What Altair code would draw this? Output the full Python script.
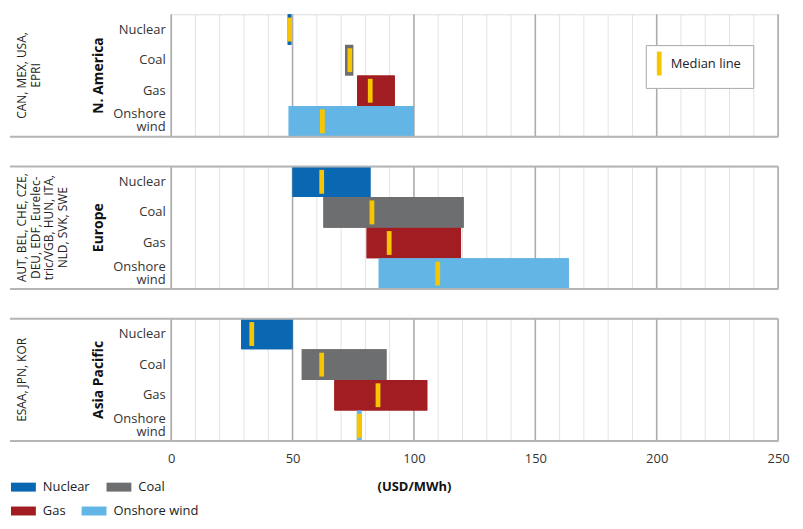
import altair as alt
import pandas as pd

# ---------------- data ----------------
regions = ["N. America", "Europe", "Asia Pacific"]
countries = [
    ["CAN, MEX, USA,", "EPRI"],
    ["AUT, BEL, CHE, CZE,", "DEU, EDF, Eurelec-", "tric/VGB, HUN, ITA,", "NLD, SVK, SWE"],
    ["ESAA, JPN, KOR"],
]
technologies = ["Nuclear", "Coal", "Gas", "Onshore wind"]
tech_colors = ["#0a67b2", "#6d6e70", "#a11d21", "#62b5e5"]
legend_row1 = ["Nuclear", "Coal"]
legend_row2 = ["Gas", "Onshore wind"]

low = [[48.0, 71.6, 76.6, 48.4], [50.0, 62.7, 80.5, 85.5], [28.8, 53.8, 67.2, 76.5]]
high = [[49.5, 75.0, 92.1, 100.0], [82.1, 120.5, 119.4, 163.8], [50.0, 88.7, 105.5, 78.4]]
median = [[48.8, 73.6, 82.0, 62.3], [62.0, 82.7, 89.8, 109.8], [33.2, 62.0, 85.2, 77.4]]

grid_values = list(range(0, 251, 10))
grid_major = [v % 50 == 0 for v in grid_values]
x_label_values = [0, 50, 100, 150, 200, 250]
median_label = "Median line"
x_title = "(USD/MWh)"

YELLOW = "#f7c600"
FONT = "Open Sans"
W, H = 610, 123
LINE = "#b5b5b5"

median_path = "M-0.4,-2L0.4,-2L0.4,2L-0.4,2Z"
legend_rect = "M-1,-0.36L1,-0.36L1,0.36L-1,0.36Z"

grid_df = pd.DataFrame({"g": grid_values, "major": grid_major})


def tech_legend(values, y):
    return alt.Legend(
        orient="none",
        legendX=-161,
        legendY=y,
        direction="horizontal",
        values=values,
        symbolType=legend_rect,
        symbolSize=625,
        symbolStrokeWidth=0,
        symbolOpacity=1,
        labelOffset=7,
        columnPadding=16,
        labelFontSize=13,
        labelColor="#222222",
        labelFont=FONT,
        padding=0,
        title=None,
    )


def panel(i):
    last = i == 2
    df = pd.DataFrame({
        "tech": technologies,
        "low": low[i],
        "high": high[i],
        "median": median[i],
        "label": [median_label] * 4,
    })

    xscale = alt.Scale(domain=[0, 250], nice=False, zero=False)

    if last:
        x_axis = alt.Axis(
            values=x_label_values,
            grid=False,
            domain=False,
            ticks=False,
            labelOverlap=False,
            labelFlush=False,
            labelFontSize=13,
            labelColor="#333333",
            labelPadding=12,
            labelFont=FONT,
            titleFontWeight="bold",
            titleFontSize=13,
            titleColor="#111111",
            titleX=244,
            titleY=46,
            titleAlign="center",
            titleBaseline="middle",
            titleFont=FONT,
        )
    else:
        x_axis = alt.Axis(values=x_label_values, grid=False, domain=False, ticks=False, labels=False)

    grid = alt.Chart(grid_df).mark_rule().encode(
        x=alt.X("g:Q", scale=xscale, axis=x_axis, title=x_title if last else None),
        y=alt.value(0),
        y2=alt.value(H),
        color=alt.condition("datum.major", alt.value("#ababab"), alt.value("#e2e2e2")),
        strokeWidth=alt.condition("datum.major", alt.value(1.6), alt.value(1)),
    )

    yenc = alt.Y(
        "tech:N",
        sort=technologies,
        scale=alt.Scale(domain=technologies, paddingInner=0, paddingOuter=0),
        axis=alt.Axis(
            labelExpr="datum.value == 'Onshore wind' ? ['Onshore', 'wind'] : datum.value",
            labelOffset={"condition": {"test": "datum.value == 'Onshore wind'", "value": -7}, "value": 0},
            domain=False,
            ticks=False,
            grid=False,
            labelPadding=6,
            labelFontSize=13,
            labelColor="#333333",
            labelLineHeight=13,
            labelFont=FONT,
        ),
        title=None,
    )

    base = alt.Chart(df)
    bars1 = base.mark_bar().encode(
        x=alt.X("low:Q", scale=xscale),
        x2="high:Q",
        y=yenc,
        color=alt.Color(
            "tech:N",
            scale=alt.Scale(domain=technologies, range=tech_colors),
            legend=tech_legend(legend_row1, 462.5),
        ),
    )
    # second legend row: same bars, scale domain listed in another order so the legends stay apart
    order2 = legend_row2 + legend_row1
    colors2 = [tech_colors[technologies.index(t)] for t in order2]
    bars2 = base.mark_bar().encode(
        x=alt.X("low:Q", scale=xscale),
        x2="high:Q",
        y=alt.Y("tech:N", sort=technologies),
        fill=alt.Fill(
            "tech:N",
            scale=alt.Scale(domain=order2, range=colors2),
            legend=tech_legend(legend_row2, 486.5),
        ),
    )

    med = base.mark_point(filled=True, size=144, opacity=1, strokeWidth=0, color=YELLOW).encode(
        x=alt.X("median:Q", scale=xscale),
        y=alt.Y("tech:N", sort=technologies),
        shape=alt.Shape(
            "label:N",
            scale=alt.Scale(domain=[median_label], range=[median_path]),
            legend=alt.Legend(
                orient="none",
                legendX=477,
                legendY=31,
                title=None,
                padding=12,
                strokeColor="#a8a8a8",
                fillColor="white",
                symbolSize=144,
                symbolOffset=-5,
                labelOffset=5,
                symbolFillColor=YELLOW,
                symbolStrokeWidth=0,
                labelFontSize=13,
                labelColor="#222222",
                labelFont=FONT,
            ),
        ),
    )

    reg = alt.Chart(pd.DataFrame({"t": [regions[i]]})).mark_text(
        angle=270, fontWeight="bold", fontSize=14, align="center", baseline="middle",
        color="#111111", font=FONT,
    ).encode(text="t:N", x=alt.value(-73), y=alt.value(H / 2))

    ctry = alt.Chart(pd.DataFrame({"t": ["\n".join(countries[i])]})).mark_text(
        angle=270, fontSize=12, align="center", baseline="top", lineBreak="\n",
        lineHeight=13.7, color="#222222", font=FONT,
    ).encode(text="t:N", x=alt.value(-155), y=alt.value(H / 2))

    layers = [grid, bars1, bars2, med, reg, ctry]
    bottom = alt.Chart(pd.DataFrame({"k": [0]})).mark_rule(color=LINE, strokeWidth=2).encode(
        x=alt.value(-162), x2=alt.value(W), y=alt.value(H)
    )
    layers.append(bottom)
    if i > 0:
        top = alt.Chart(pd.DataFrame({"k": [0]})).mark_rule(color=LINE, strokeWidth=2).encode(
            x=alt.value(-162), x2=alt.value(W), y=alt.value(0)
        )
        layers.append(top)

    return alt.layer(*layers).properties(width=W, height=H)


chart = alt.vconcat(panel(0), panel(1), panel(2), spacing=30, bounds="flush").properties(
    padding={"left": 0, "top": 3, "right": 5, "bottom": 5}
).configure_view(strokeWidth=0).configure_legend(strokeWidth=1.5).configure(font=FONT)

chart.save("out.html", embed_options={"renderer": "svg", "actions": False})
